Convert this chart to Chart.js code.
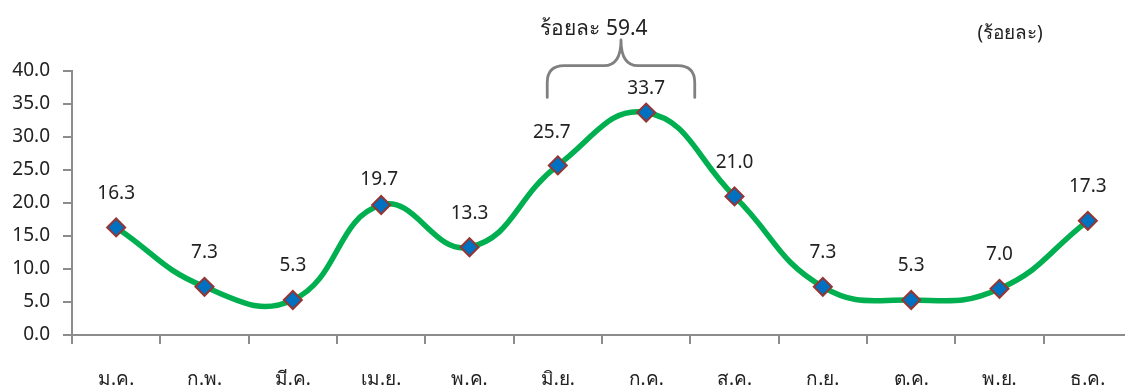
<!DOCTYPE html>
<html>
<head>
<meta charset="utf-8">
<script src="https://cdn.jsdelivr.net/npm/chart.js@4/dist/chart.umd.min.js"></script>
<style>
  html, body { margin: 0; padding: 0; background: #fff; overflow: hidden; }
  canvas { display: block; }
</style>
</head>
<body>
<canvas id="c" width="1132" height="389"></canvas>
<script>
// Monthly share (percent)
const months = ['ม.ค.', 'ก.พ.', 'มี.ค.', 'เม.ย.', 'พ.ค.', 'มิ.ย.', 'ก.ค.', 'ส.ค.', 'ก.ย.', 'ต.ค.', 'พ.ย.', 'ธ.ค.'];
const shares = [16.3, 7.3, 5.3, 19.7, 13.3, 25.7, 33.7, 21.0, 7.3, 5.3, 7.0, 17.3];
const yTicks = [0, 5, 10, 15, 20, 25, 30, 35, 40];
// Months grouped under the brace (June + July)
const bracedMonths = ['มิ.ย.', 'ก.ค.'];
const unitText = '(ร้อยละ)';
const bracePrefix = 'ร้อยละ';

const FONT = "Tahoma, 'Noto Sans', 'DejaVu Sans', sans-serif";
const TEXT = '#222222';
const AXIS = '#8c8c8c';

const braceSum = bracedMonths
  .map(m => shares[months.indexOf(m)])
  .reduce((a, b) => a + b, 0);

// Value labels sit 34px above each marker; a few were nudged to clear the curve
const LABEL_LIFT = 34;
const labelNudge = { 'เม.ย.': { dx: -2, dy: 9 }, 'มิ.ย.': { dx: -6, dy: 1 }, 'ก.ค.': { dx: 0, dy: 10 } };

const overlay = {
  id: 'overlay',
  afterDatasetsDraw(chart) {
    const ctx = chart.ctx;
    const meta = chart.getDatasetMeta(0);
    ctx.save();
    ctx.fillStyle = TEXT;
    ctx.font = '19px ' + FONT;
    ctx.textAlign = 'center';
    ctx.textBaseline = 'middle';
    meta.data.forEach((pt, i) => {
      const n = labelNudge[months[i]] || { dx: 0, dy: 0 };
      ctx.fillText(shares[i].toFixed(1), pt.x + n.dx, pt.y - LABEL_LIFT + n.dy);
    });

    // Brace over the grouped months
    const x = chart.scales.x;
    const y = chart.scales.y;
    const i0 = months.indexOf(bracedMonths[0]);
    const i1 = months.indexOf(bracedMonths[bracedMonths.length - 1]);
    const step = x.getPixelForValue(1) - x.getPixelForValue(0);
    const left = x.getPixelForValue(i0) - step * 0.12;
    const right = x.getPixelForValue(i1) + step * 0.55;
    const mid = (left + right) / 2;
    const legBottom = y.getPixelForValue(36.0);
    const bar = y.getPixelForValue(40.8);
    const peak = y.getPixelForValue(44.7);
    const r = 17;
    ctx.strokeStyle = '#808080';
    ctx.lineWidth = 2.8;
    ctx.lineCap = 'round';
    ctx.lineJoin = 'round';
    ctx.beginPath();
    ctx.moveTo(left, legBottom);
    ctx.lineTo(left, bar + r);
    ctx.quadraticCurveTo(left, bar, left + r, bar);
    ctx.lineTo(mid - r, bar);
    ctx.quadraticCurveTo(mid, bar, mid, peak);
    ctx.quadraticCurveTo(mid, bar, mid + r, bar);
    ctx.lineTo(right - r, bar);
    ctx.quadraticCurveTo(right, bar, right, bar + r);
    ctx.lineTo(right, legBottom);
    ctx.stroke();

    ctx.fillStyle = TEXT;
    ctx.font = '21px ' + FONT;
    ctx.textAlign = 'center';
    ctx.fillText(bracePrefix + ' ' + braceSum.toFixed(1), mid - 27, y.getPixelForValue(46.3));

    ctx.font = '19px ' + FONT;
    ctx.fillText(unitText, x.getPixelForValue(10.12), y.getPixelForValue(45.7));
    ctx.restore();
  }
};

new Chart(document.getElementById('c'), {
  type: 'line',
  data: {
    labels: months,
    datasets: [{
      data: shares,
      borderColor: '#00b050',
      borderWidth: 5.5,
      tension: 0.45,
      pointStyle: 'rectRot',
      pointRadius: 9,
      pointHoverRadius: 9,
      pointBackgroundColor: '#0070c0',
      pointBorderColor: '#943634',
      pointBorderWidth: 2,
      clip: false
    }]
  },
  options: {
    responsive: false,
    animation: false,
    events: [],
    layout: { autoPadding: false, padding: { top: 71, right: 0, left: 0, bottom: 0 } },
    plugins: { legend: { display: false }, tooltip: { enabled: false } },
    scales: {
      x: {
        type: 'category',
        offset: true,
        grid: { offset: true, drawOnChartArea: false, drawTicks: true, tickLength: 9, color: AXIS, lineWidth: 2 },
        border: { display: true, color: AXIS, width: 2 },
        ticks: { color: TEXT, font: { family: FONT, size: 19 }, padding: 24, maxRotation: 0, autoSkip: false },
        afterFit(s) { s.height = 54; s.paddingLeft = 0; s.paddingRight = 0; }
      },
      y: {
        min: 0,
        max: 40,
        afterBuildTicks(s) { s.ticks = yTicks.map(v => ({ value: v })); },
        grid: { drawOnChartArea: false, drawTicks: true, tickLength: 9, color: AXIS, lineWidth: 2 },
        border: { display: true, color: AXIS, width: 2 },
        ticks: { color: TEXT, font: { family: FONT, size: 19 }, padding: 13, callback: v => Number(v).toFixed(1) },
        afterFit(s) { s.width = 72; s.paddingTop = 0; s.paddingBottom = 0; }
      }
    }
  },
  plugins: [overlay]
});
</script>
</body>
</html>
